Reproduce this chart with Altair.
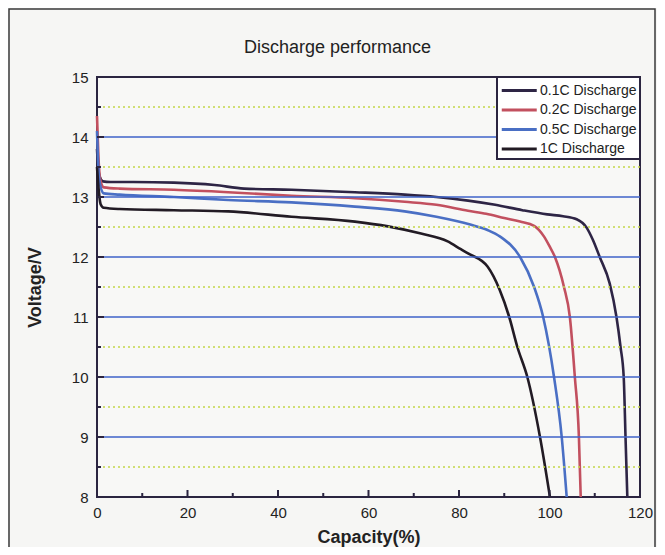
import altair as alt
import pandas as pd

series_names = ["0.1C Discharge", "0.2C Discharge", "0.5C Discharge", "1C Discharge"]
series_colors = ["#2e2545", "#c2505f", "#4a6fc4", "#221b24"]

cap_01 = [0, 0.3, 0.7, 1.3, 3, 8, 17, 26, 32.5, 43, 57, 68, 75, 82, 88, 94, 99.5, 103, 106, 108.2, 109.5, 111.1, 113.3, 114.8, 115.7, 116.4, 116.8, 117.2]
volt_01 = [13.8, 13.45, 13.32, 13.26, 13.25, 13.25, 13.24, 13.2, 13.14, 13.12, 13.08, 13.04, 13.0, 12.94, 12.87, 12.78, 12.71, 12.68, 12.63, 12.49, 12.3, 12.0, 11.56, 11.0, 10.5, 10.0, 9.0, 8.0]

cap_02 = [0, 0.3, 0.7, 1.5, 5, 17, 29, 43, 57, 68, 75, 82, 86, 90, 93.5, 96.6, 98.8, 100, 101.2, 103.2, 104.5, 105.6, 106.5, 106.9]
volt_02 = [14.35, 13.7, 13.3, 13.16, 13.14, 13.12, 13.08, 13.02, 12.98, 12.92, 12.87, 12.77, 12.72, 12.65, 12.59, 12.52, 12.34, 12.18, 12.0, 11.5, 11.0, 10.0, 9.0, 8.0]

cap_05 = [0, 0.3, 0.7, 1.5, 5, 17, 29, 43, 57, 68, 75, 82.5, 86.3, 89.1, 93.5, 96.6, 98.6, 101.0, 102.7, 103.8]
volt_05 = [14.1, 13.5, 13.2, 13.06, 13.04, 13.0, 12.95, 12.91, 12.84, 12.76, 12.67, 12.54, 12.45, 12.34, 12.0, 11.5, 11.0, 10.0, 9.0, 8.0]

cap_1 = [0, 0.4, 0.8, 1.5, 5, 17, 29, 43, 57, 64.3, 71.6, 77.5, 80.4, 82, 86.3, 89, 91.1, 92.9, 95.1, 97.9, 100.1]
volt_1 = [13.5, 13.1, 12.88, 12.82, 12.8, 12.78, 12.76, 12.67, 12.59, 12.51, 12.39, 12.26, 12.13, 12.06, 11.84, 11.45, 11.0, 10.5, 10.0, 9.0, 8.0]

x_tick_labels = [0, 20, 40, 60, 80, 100, 120]
x_minor = [10, 30, 50, 70, 90, 110]
y_tick_labels = [8, 9, 10, 11, 12, 13, 14, 15]
y_minor = [8.5, 9.5, 10.5, 11.5, 12.5, 13.5, 14.5]
solid_levels = [9, 10, 11, 12, 13, 14]
dotted_levels = [8.5, 9.5, 10.5, 11.5, 12.5, 13.5, 14.5]

rows = []
for name, caps, volts in zip(series_names, [cap_01, cap_02, cap_05, cap_1], [volt_01, volt_02, volt_05, volt_1]):
    for c, v in zip(caps, volts):
        rows.append({"series": name, "capacity": c, "voltage": v})
df = pd.DataFrame(rows)

W, H = 543, 420
xs = alt.Scale(domain=[0, 120], nice=False, zero=False)
ys = alt.Scale(domain=[8, 15], nice=False, zero=False)

x_axis = alt.Axis(values=x_tick_labels, ticks=False, domain=False, grid=False, labelFlush=False,
                  labelPadding=8, titlePadding=8, labelFontSize=15,
                  titleFontSize=18, titleFontWeight="bold")
y_axis = alt.Axis(values=y_tick_labels, ticks=False, domain=False, grid=False, labelFlush=False,
                  labelPadding=9, titlePadding=27, labelFontSize=15,
                  titleFontSize=18, titleFontWeight="bold")
XT = "Capacity(%)"
YT = "Voltage/V"

dotted = alt.Chart(pd.DataFrame({"v": dotted_levels})).mark_rule(
    color="#c4d64a", strokeWidth=1.5, strokeDash=[2, 3]
).encode(y=alt.Y("v:Q", scale=ys, axis=y_axis, title=YT))

solid = alt.Chart(pd.DataFrame({"v": solid_levels})).mark_rule(
    color="#3f63c9", strokeWidth=1.5
).encode(y=alt.Y("v:Q", scale=ys, axis=y_axis, title=YT))

lines = alt.Chart(df).mark_line(strokeWidth=2.6, interpolate="monotone").encode(
    x=alt.X("capacity:Q", scale=xs, title=XT, axis=x_axis),
    y=alt.Y("voltage:Q", scale=ys, title=YT, axis=y_axis),
    color=alt.Color("series:N", scale=alt.Scale(domain=series_names, range=series_colors),
                    legend=alt.Legend(title=None, orient="top-right", offset=0,
                                      labelExpr="datum.label == '1C Discharge' ? '\u00a0\u00a0\u00a01C Discharge' : datum.label")),
    order=alt.Order("capacity:Q"),
)

xt_major = alt.Chart(pd.DataFrame({"v": x_tick_labels})).mark_rule(color="#2b2540", strokeWidth=2).encode(
    x=alt.X("v:Q", scale=xs, axis=x_axis, title=XT), y=alt.value(H), y2=alt.value(H - 7))
xt_minor = alt.Chart(pd.DataFrame({"v": x_minor})).mark_rule(color="#2b2540", strokeWidth=2).encode(
    x=alt.X("v:Q", scale=xs, axis=x_axis, title=XT), y=alt.value(H), y2=alt.value(H - 4))
yt_major = alt.Chart(pd.DataFrame({"v": y_tick_labels})).mark_rule(color="#2b2540", strokeWidth=2).encode(
    y=alt.Y("v:Q", scale=ys, axis=y_axis, title=YT), x=alt.value(0), x2=alt.value(7))
yt_minor = alt.Chart(pd.DataFrame({"v": y_minor})).mark_rule(color="#2b2540", strokeWidth=2).encode(
    y=alt.Y("v:Q", scale=ys, axis=y_axis, title=YT), x=alt.value(0), x2=alt.value(4))

frame = alt.Chart(pd.DataFrame({"v": [0]})).mark_rect(
    fill=None, stroke="#3a3a3a", strokeWidth=1.5
).encode(x=alt.value(-88), x2=alt.value(558), y=alt.value(-68), y2=alt.value(H + 80))

chart = alt.layer(lines, dotted, solid, xt_major, xt_minor, yt_major, yt_minor, frame).properties(
    width=W, height=H,
    autosize="none",
    padding={"left": 89, "top": 69, "right": 17, "bottom": 50},
    background="#f6f6f4",
    title=alt.TitleParams("Discharge performance", fontSize=18, fontWeight="normal",
                          font="Liberation Sans", color="#222222", offset=-49, dx=-31),
).configure_view(
    stroke="#2b2540", strokeWidth=2, fill="#f8f8f6"
).configure_axis(
    labelFont="Liberation Sans", titleFont="Liberation Sans",
    labelColor="#222222", titleColor="#222222",
).configure_legend(
    labelFont="Liberation Sans", labelFontSize=14, labelColor="#222222",
    symbolType="M-1,0H3", symbolStrokeWidth=3, symbolSize=306.25,
    strokeColor="#2b2540", strokeWidth=2, fillColor="#ffffff",
    padding=3, rowPadding=1.5, labelOffset=19, symbolOffset=0,
)

chart.save("out.html", embed_options={"renderer": "svg", "actions": False})
